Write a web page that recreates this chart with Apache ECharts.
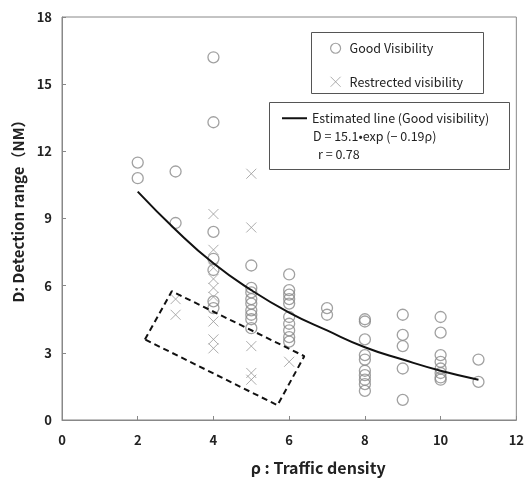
<!DOCTYPE html>
<html lang="en">
<head>
<meta charset="UTF-8">
<title>Detection range vs traffic density</title>
<style>
  html, body { margin: 0; padding: 0; background: #fff; }
  #chart { width: 527px; height: 481px; }
</style>
</head>
<body>
<div id="chart"></div>
<script src="https://cdn.jsdelivr.net/npm/echarts@6/dist/echarts.min.js"></script>
<script>
// observed detection ranges [rho, D]
var goodVisibility = [
  [2, 11.5], [2, 10.8],
  [3, 11.1], [3, 8.8],
  [4, 16.2], [4, 13.3], [4, 8.4], [4, 7.2], [4, 6.7], [4, 5.3], [4, 5.0],
  [5, 6.9], [5, 5.9], [5, 5.7], [5, 5.4], [5, 5.2], [5, 4.9], [5, 4.7], [5, 4.5], [5, 4.1],
  [6, 6.5], [6, 5.8], [6, 5.6], [6, 5.4], [6, 5.2], [6, 4.6], [6, 4.3], [6, 4.0], [6, 3.7], [6, 3.5],
  [7, 5.0], [7, 4.7],
  [8, 4.5], [8, 4.4], [8, 3.6], [8, 2.9], [8, 2.7], [8, 2.2], [8, 2.0], [8, 1.8], [8, 1.6], [8, 1.3],
  [9, 4.7], [9, 3.8], [9, 3.3], [9, 2.3], [9, 0.9],
  [10, 4.6], [10, 3.9], [10, 2.9], [10, 2.6], [10, 2.3], [10, 2.1], [10, 1.9], [10, 1.8],
  [11, 2.7], [11, 1.7]
];
var restrictedVisibility = [
  [3, 5.4], [3, 4.7],
  [4, 9.2], [4, 7.6], [4, 6.8], [4, 6.3], [4, 5.9], [4, 5.5], [4, 4.4], [4, 3.6], [4, 3.2],
  [5, 11.0], [5, 8.6], [5, 3.3], [5, 2.1], [5, 1.8],
  [6, 2.6]
];
// estimated line
var curveX = [2, 3, 4, 5, 6, 7, 8, 9, 10, 11];
var curveY = [10.2, 8.5, 7.0, 5.8, 4.8, 4.0, 3.25, 2.7, 2.2, 1.8];
// dashed box corners [rho, D]
var boxCorners = [[2.19, 3.6], [2.9, 5.75], [6.4, 2.85], [5.69, 0.66], [2.19, 3.6]];

var seriesNames = ['Good Visibility', 'Restrected visibility', 'Estimated line (Good visibility)'];
var formulaLines = ['D = 15.1•exp (− 0.19ρ)', 'r = 0.78'];

var grey = '#8a8a8a';
var crossPath = 'path://M0,0L10,10M10,0L0,10';
var font = '"Noto Sans CJK JP", "Noto Sans", sans-serif';
var smallSize = 12.5;

var chart = echarts.init(document.getElementById('chart'));

var curveData = [];
for (var i = 0; i < curveX.length; i++) {
  curveData.push([curveX[i], curveY[i]]);
}

var option = {
  backgroundColor: '#fff',
  animation: false,
  grid: {
    left: 62, right: 10, top: 17, bottom: 54,
    show: true, borderColor: '#888', borderWidth: 1
  },
  xAxis: {
    type: 'value', min: 0, max: 12, interval: 2,
    name: 'ρ : Traffic density',
    nameLocation: 'middle', nameGap: 40,
    nameTextStyle: { fontSize: 16, fontWeight: 'bold', color: '#222', fontFamily: font, padding: [0, 0, 0, 58] },
    axisLine: { lineStyle: { color: '#888' } },
    axisTick: { inside: true, length: 4, lineStyle: { color: '#888' } },
    axisLabel: { margin: 14, fontSize: 13, fontWeight: 'bold', color: '#222', fontFamily: font },
    splitLine: { show: false }
  },
  yAxis: {
    type: 'value', min: 0, max: 18, interval: 3,
    name: 'D: Detection range（NM）',
    nameLocation: 'middle', nameGap: 30,
    nameTextStyle: { fontSize: 15, fontWeight: 'bold', color: '#222', fontFamily: font, padding: [0, 0, 0, 22] },
    axisLine: { lineStyle: { color: '#888' } },
    axisTick: { inside: true, length: 4, lineStyle: { color: '#888' } },
    axisLabel: { margin: 10, fontSize: 13, fontWeight: 'bold', color: '#222', fontFamily: font },
    splitLine: { show: false }
  },
  legend: [{
    data: [
      { name: seriesNames[0], icon: 'circle', itemStyle: { color: 'rgba(0,0,0,0)', borderColor: grey, borderWidth: 1.2 } },
      { name: seriesNames[1], icon: crossPath, itemStyle: { color: 'rgba(0,0,0,0)', borderColor: '#999', borderWidth: 1 } }
    ],
    orient: 'vertical', left: 325, top: 37,
    itemWidth: 10, itemHeight: 10, itemGap: 21,
    textStyle: { fontSize: smallSize, color: '#222', fontFamily: font, padding: [0, 0, 0, 4] }
  }, {
    data: [{ name: seriesNames[2], icon: 'rect', itemStyle: { color: '#111' } }],
    left: 277, top: 107,
    itemWidth: 25, itemHeight: 2,
    textStyle: { fontSize: smallSize, color: '#222', fontFamily: font }
  }],
  graphic: [
    { type: 'rect', left: 311, top: 32, shape: { width: 172, height: 61 },
      style: { fill: '#fff', stroke: '#555', lineWidth: 1 }, z: -1 },
    { type: 'rect', left: 269, top: 102, shape: { width: 240, height: 67 },
      style: { fill: '#fff', stroke: '#555', lineWidth: 1 }, z: -1 },
    { type: 'text', left: 313, top: 130,
      style: { text: formulaLines[0], fontSize: smallSize, fill: '#222', fontFamily: font } },
    { type: 'text', left: 318, top: 148,
      style: { text: formulaLines[1], fontSize: smallSize, fill: '#222', fontFamily: font } }
  ],
  series: [{
    name: seriesNames[0],
    type: 'scatter',
    symbol: 'circle',
    symbolSize: 11,
    itemStyle: { color: 'rgba(0,0,0,0)', borderColor: grey, borderWidth: 1.3 },
    data: goodVisibility
  }, {
    name: seriesNames[1],
    type: 'scatter',
    symbol: crossPath,
    symbolSize: 10,
    itemStyle: { color: 'rgba(0,0,0,0)', borderColor: '#999', borderWidth: 1 },
    data: restrictedVisibility
  }, {
    name: seriesNames[2],
    type: 'line',
    smooth: true,
    symbol: 'none',
    lineStyle: { color: '#111', width: 2 },
    itemStyle: { color: '#111' },
    data: curveData,
    z: 3
  }, {
    name: 'box',
    type: 'line',
    symbol: 'none',
    silent: true,
    lineStyle: { color: '#111', width: 2, type: [6, 4] },
    data: boxCorners,
    z: 3
  }]
};

chart.setOption(option);
</script>
</body>
</html>
